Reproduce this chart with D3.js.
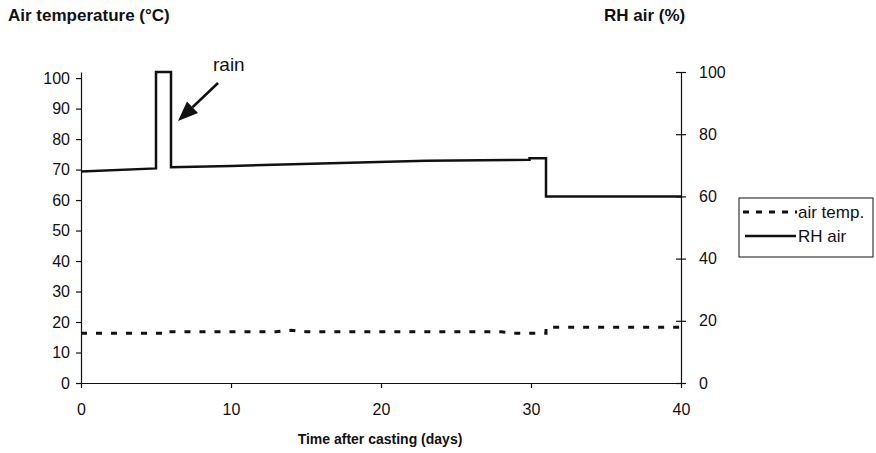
<!DOCTYPE html>
<html>
<head>
<meta charset="utf-8">
<script src="https://cdn.jsdelivr.net/npm/d3@7"></script>
<style>
  body { margin: 0; background: #fff; }
  svg { font-family: "Liberation Sans", Arial, sans-serif; }
</style>
</head>
<body>
<div class="chart"></div>
<script>
// air temperature (left axis) and RH (right axis), days after casting
const tempDays = [0, 6, 6, 13, 14, 15, 28, 29, 31, 31, 40];
const tempVals = [16.3, 16.3, 16.8, 16.8, 17.3, 16.8, 16.8, 16.3, 16.3, 18.3, 18.3];

const rhDays = [0, 5, 5, 6, 6, 10, 16, 23, 29.9, 29.9, 31, 31, 40];
const rhVals = [68, 69, 100, 100, 69.4, 69.8, 70.6, 71.5, 71.8, 72.3, 72.3, 60, 60];

const xTicks = [0, 10, 20, 30, 40];
const leftTicks = [0, 10, 20, 30, 40, 50, 60, 70, 80, 90, 100];
const rightTicks = [0, 20, 40, 60, 80, 100];

const width = 876, height = 453;
const svg = d3.select(".chart").append("svg")
  .attr("width", width)
  .attr("height", height);

const x = d3.scaleLinear().domain([0, 40]).range([81, 681]);
const yL = d3.scaleLinear().domain([0, 102]).range([383, 72]);
const yR = d3.scaleLinear().domain([0, 100]).range([383, 72]);

// axes
const xAxis = svg.append("g")
  .attr("transform", "translate(0,383)")
  .call(d3.axisBottom(x).tickValues(xTicks).tickSize(5).tickPadding(16).tickSizeOuter(0));

const leftAxis = svg.append("g")
  .attr("transform", "translate(81,0)")
  .call(d3.axisLeft(yL).tickValues(leftTicks).tickSize(5).tickPadding(6).tickSizeOuter(0));

const rightAxis = svg.append("g")
  .attr("transform", "translate(681,0)")
  .call(d3.axisRight(yR).tickValues(rightTicks).tickSize(5).tickPadding(13).tickSizeOuter(0));
// right ticks cross the axis
rightAxis.selectAll(".tick line").attr("x1", -5);

[xAxis, leftAxis, rightAxis].forEach(a => {
  a.selectAll("path, line").attr("stroke", "#111").attr("stroke-width", 1.2);
  a.selectAll("text").attr("fill", "#111").style("font-size", "16px");
});

// series
const tempLine = d3.line().x(d => x(d[0])).y(d => yL(d[1]));
const rhLine = d3.line().x(d => x(d[0])).y(d => yR(d[1]));

svg.append("path")
  .datum(tempDays.map((d, i) => [d, tempVals[i]]))
  .attr("d", tempLine)
  .attr("fill", "none")
  .attr("stroke", "#111")
  .attr("stroke-width", 3)
  .attr("stroke-dasharray", "6,9");

svg.append("path")
  .datum(rhDays.map((d, i) => [d, rhVals[i]]))
  .attr("d", rhLine)
  .attr("fill", "none")
  .attr("stroke", "#111")
  .attr("stroke-width", 2.5)
  .attr("stroke-linejoin", "miter");

// titles
svg.append("text").attr("x", 8).attr("y", 21)
  .style("font-size", "17px").style("font-weight", "bold").attr("fill", "#111")
  .text("Air temperature (°C)");
svg.append("text").attr("x", 604).attr("y", 21)
  .style("font-size", "17px").style("font-weight", "bold").attr("fill", "#111")
  .text("RH air (%)");
svg.append("text").attr("x", 380).attr("y", 444)
  .attr("text-anchor", "middle")
  .style("font-size", "14px").style("font-weight", "bold").attr("fill", "#111")
  .text("Time after casting (days)");

// rain annotation
svg.append("text").attr("x", 213).attr("y", 71)
  .style("font-size", "19px").attr("fill", "#111").text("rain");

const tail = [218, 83], tip = [178, 121];
const ang = Math.atan2(tip[1] - tail[1], tip[0] - tail[0]);
const headLen = 20, headW = 8;
const base = [tip[0] - headLen * Math.cos(ang), tip[1] - headLen * Math.sin(ang)];
svg.append("line")
  .attr("x1", tail[0]).attr("y1", tail[1])
  .attr("x2", base[0]).attr("y2", base[1])
  .attr("stroke", "#111").attr("stroke-width", 2.5);
svg.append("path")
  .attr("d", d3.line()([
    tip,
    [base[0] + headW * Math.sin(ang), base[1] - headW * Math.cos(ang)],
    [base[0] - headW * Math.sin(ang), base[1] + headW * Math.cos(ang)]
  ]) + "Z")
  .attr("fill", "#111");

// legend
const legend = svg.append("g");
legend.append("rect")
  .attr("x", 739).attr("y", 198).attr("width", 134).attr("height", 59)
  .attr("fill", "#fff").attr("stroke", "#111").attr("stroke-width", 1);
legend.append("line")
  .attr("x1", 743).attr("x2", 797).attr("y1", 212).attr("y2", 212)
  .attr("stroke", "#111").attr("stroke-width", 3).attr("stroke-dasharray", "6,7");
legend.append("line")
  .attr("x1", 745).attr("x2", 796).attr("y1", 236).attr("y2", 236)
  .attr("stroke", "#111").attr("stroke-width", 2.5);
legend.append("text").attr("x", 798).attr("y", 218)
  .style("font-size", "17px").attr("fill", "#111").text("air temp.");
legend.append("text").attr("x", 798).attr("y", 242)
  .style("font-size", "17px").attr("fill", "#111").text("RH air");
</script>
</body>
</html>
